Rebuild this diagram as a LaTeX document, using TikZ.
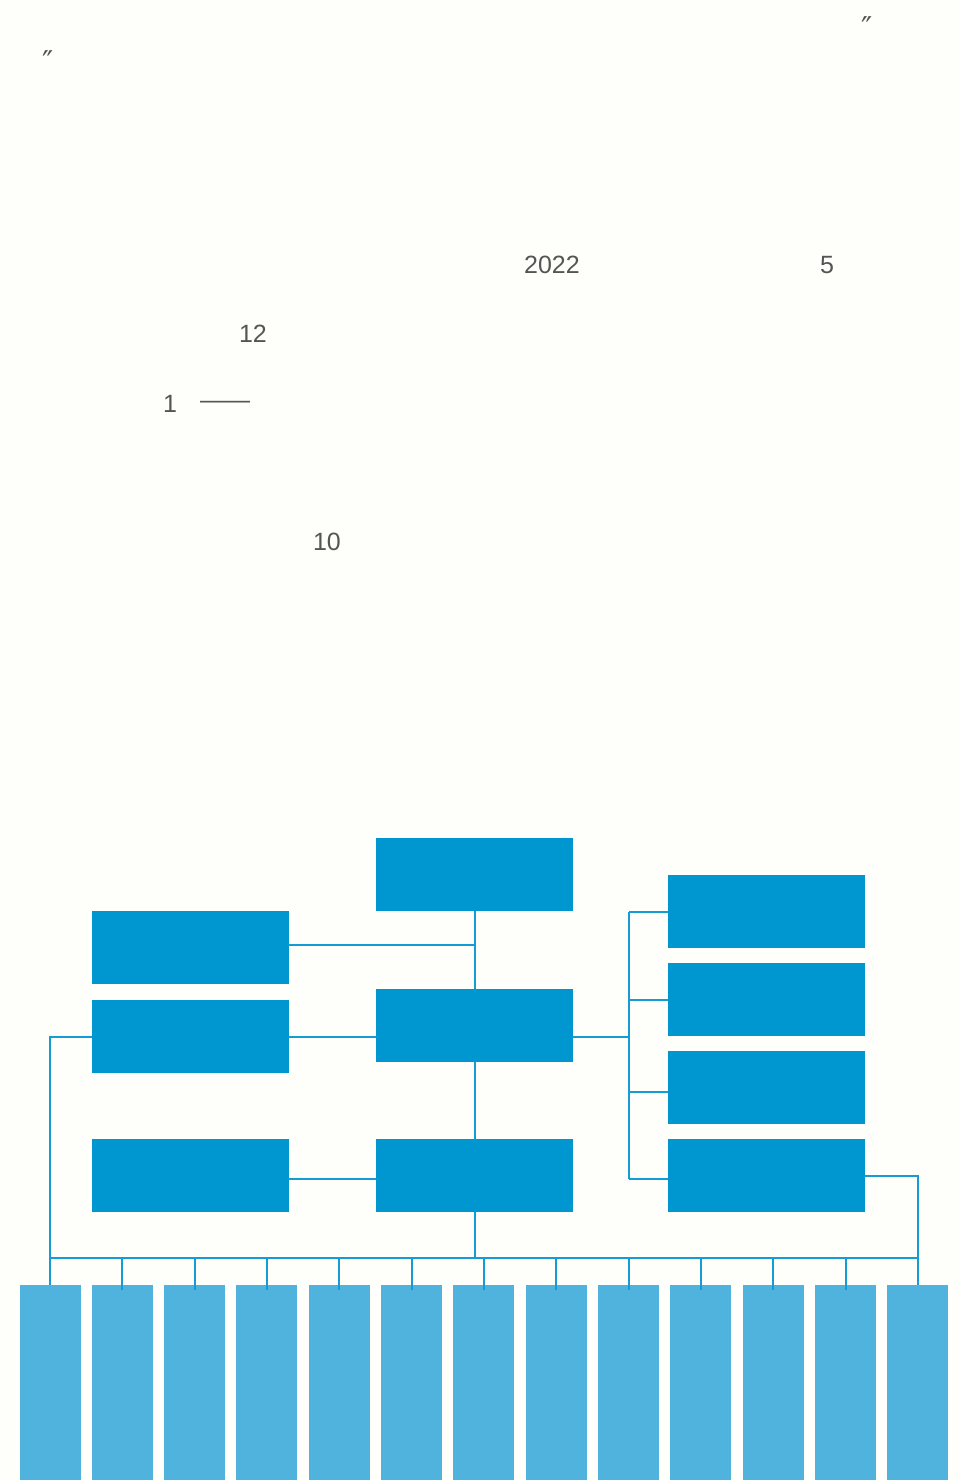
\documentclass[tikz,border=0pt]{standalone}
\usepackage{fontspec}
\setmainfont{Liberation Sans}
\newfontfamily\djfont{DejaVu Sans}
\definecolor{mainblue}{RGB}{0,150,208}
\definecolor{leafblue}{RGB}{79,179,221}
\definecolor{lineblue}{RGB}{22,156,212}
\definecolor{textgray}{RGB}{85,85,85}
\definecolor{bgcol}{RGB}{254,254,250}
\begin{document}
\begin{tikzpicture}[x=1pt,y=-1pt,
  box/.style={fill=mainblue, draw=none, minimum width=197pt, minimum height=73pt, inner sep=0pt, outer sep=0pt},
  leaf/.style={fill=leafblue, draw=none, minimum width=61pt, minimum height=195pt, inner sep=0pt, outer sep=0pt},
  link/.style={draw=lineblue, line width=2pt},
  txt/.style={text=textgray, font=\fontsize{25}{29}\selectfont, inner sep=0pt},
  qmark/.style={text=textgray, font=\djfont\fontsize{30}{34}\selectfont, inner sep=0pt, anchor=north}]
\fill[bgcol] (0,0) rectangle (960,1480);
\useasboundingbox (0,0) rectangle (960,1480);
% texts
\node[qmark] (q1) at (867,16) {″};
\node[qmark] (q2) at (48,50) {″};
\node[txt] (t2022) at (552,265) {2022};
\node[txt] (t5) at (827,265) {5};
\node[txt] (t12) at (253,334) {12};
\node[txt] (t1) at (170,404) {1};
\node[txt] (tdash) at (225,405) {——};
\node[txt] (t10) at (327,542) {10};
% boxes
\node[box] (top) at (474.5,874.5) {};
\node[box] (l1) at (190.5,947.5) {};
\node[box] (l2) at (190.5,1036.5) {};
\node[box] (l3) at (190.5,1175.5) {};
\node[box] (c2) at (474.5,1025.5) {};
\node[box] (c3) at (474.5,1175.5) {};
\node[box] (r1) at (766.5,911.5) {};
\node[box] (r2) at (766.5,999.5) {};
\node[box] (r3) at (766.5,1087.5) {};
\node[box] (r4) at (766.5,1175.5) {};
% leaves
\foreach \i in {1,...,13} {
  \node[leaf] (leaf\i) at ({50+72.33*(\i-1)},1382.5) {};
}
% connectors
\draw[link] (top.south) -- (c2.north);
\draw[link] ([yshift=2.5pt]l1.east) -- ([yshift=2.5pt]l1.east -| top.south);
\draw[link] (l2.east) -- (l2.east -| c2.west);
\draw[link] (l2.west) -| (leaf1.north);
\draw[link] (c2.south) -- (c3.north);
\draw[link] ([yshift=-3.5pt]l3.east) -- ([yshift=-3.5pt]l3.east -| c3.west);
\coordinate (rb) at (629,1037);
\draw[link] (c2.east |- rb) -- (rb);
\draw[link] (r1.west -| rb) -- ([yshift=-3.5pt]r4.west -| rb);
\draw[link] (r1.west -| rb) -- (r1.west);
\draw[link] (r2.west -| rb) -- (r2.west);
\draw[link] ([yshift=-4.5pt]r3.west -| rb) -- ([yshift=-4.5pt]r3.west);
\draw[link] ([yshift=-3.5pt]r4.west -| rb) -- ([yshift=-3.5pt]r4.west);
\draw[link] (r4.east) -| (leaf13.north);
\coordinate (bus) at (474.5,1258);
\draw[link] (c3.south) -- (bus);
\draw[link] (leaf1.north |- bus) -- (leaf13.north |- bus);
\foreach \i in {2,...,12} {
  \draw[link] (leaf\i.north |- bus) -- ([yshift=-5pt]leaf\i.north);
}
\end{tikzpicture}
\end{document}
